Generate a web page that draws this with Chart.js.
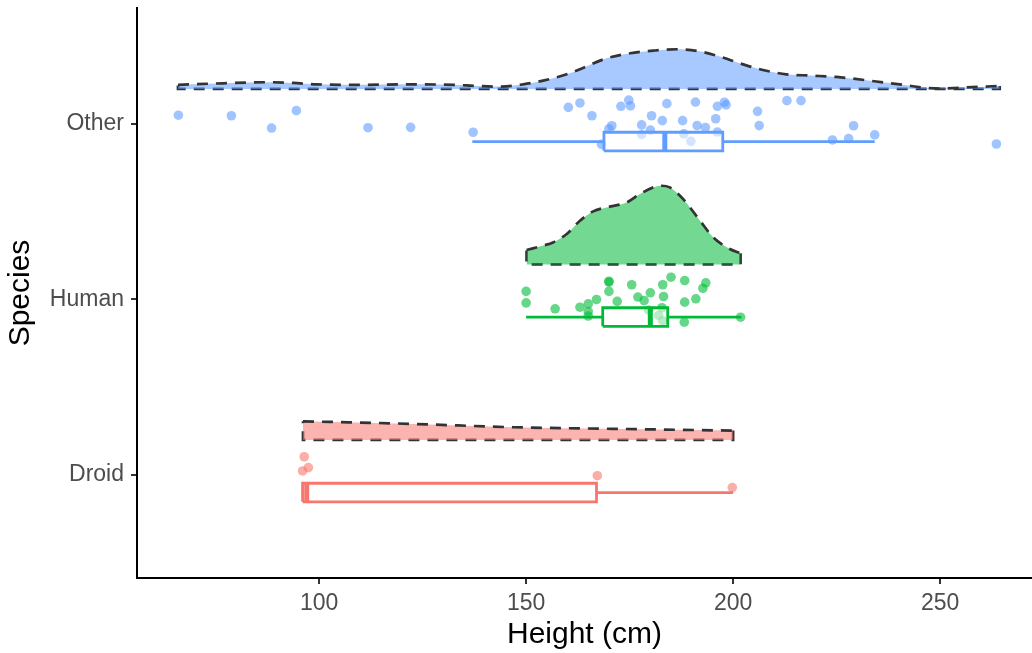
<!DOCTYPE html>
<html>
<head>
<meta charset="utf-8">
<script src="https://cdn.jsdelivr.net/npm/chart.js@4.4.1/dist/chart.umd.min.js"></script>
<style>
  html, body { margin: 0; padding: 0; background: #fff; }
</style>
</head>
<body>
<canvas id="chart" width="1032" height="653"></canvas>
<script>
const species = ['Droid', 'Human', 'Other'];
const xTicks = [100, 150, 200, 250];

// raw heights (cm) and the vertical jitter of each dot
const droidHeights = [96.4, 96.0, 97.4, 167.2, 199.8];
const droidJitter = [0.104, 0.023, 0.042, -0.004, -0.072];

const humanHeights = [150, 150, 157, 163, 165, 165, 165, 167, 170, 170, 170, 172, 175.5, 177, 178.5,
  180, 179.6, 182, 183, 182.8, 183, 183.2, 185, 188.3, 188.3, 188.2, 191, 192.7, 193.4, 201.8];
const humanJitter = [0.046, -0.019, -0.053, -0.044, -0.025, -0.068, -0.094, 0.000, 0.099, 0.104, 0.046, -0.011, 0.084, 0.014, -0.006,
  0.038, -0.061, -0.091, -0.121, -0.047, 0.084, 0.017, 0.127, 0.108, -0.015, -0.129, 0.004, 0.064, 0.095, -0.101];

const otherHeights = [66, 78.8, 88.5, 94.5, 111.8, 122.1, 137.2, 160.2, 163, 165.9, 170.7, 170, 168.2, 172.9,
  174.8, 175.2, 177.9, 180.3, 180, 177.9, 182.9, 184, 187.8, 188.1, 189.8, 190.9, 191.3, 193.3, 195.8,
  196.2, 196.2, 197.9, 198.3, 205.9, 206.3, 213, 216.4, 224, 227.9, 229.1, 234.2, 263.6];
const otherJitter = [0.050, 0.047, -0.023, 0.076, -0.021, -0.019, -0.047, 0.095, 0.120, 0.047, -0.010, -0.028, -0.116, 0.101,
  0.136, 0.103, -0.005, 0.047, -0.035, -0.060, 0.019, 0.116, 0.019, -0.056, -0.099, 0.125, -0.009, -0.020, 0.030,
  -0.046, 0.101, 0.124, 0.109, 0.072, -0.009, 0.133, 0.133, -0.091, -0.083, -0.010, -0.062, -0.114];

// half-violin outlines: x positions and scaled density heights
const droidDensX = [96.1, 122.7, 146.9, 171.0, 200.0];
const droidDensH = [0.106, 0.091, 0.072, 0.063, 0.053];

const humanDensX = [150.1, 154.1, 156.5, 159.8, 163.0, 166.2, 170.2, 174.3, 177.5, 180.7, 182.7, 184.7, 187.9, 192.0, 195.2, 199.2, 201.8];
const humanDensH = [0.082, 0.107, 0.125, 0.173, 0.249, 0.302, 0.329, 0.353, 0.401, 0.439, 0.448, 0.439, 0.373, 0.249, 0.154, 0.088, 0.063];

const otherDensX = [65.9, 76.8, 88.1, 93.7, 99.4, 110.6, 121.1, 132.4, 138.0, 143.6, 149.3, 154.1, 159.8, 163.0, 169.4,
  175.1, 180.7, 186.3, 191.2, 196.8, 201.6, 207.2, 212.9, 218.5, 225.0, 234.6, 241.1, 245.9, 249.9, 254.8, 264.4];
const otherDensH = [0.023, 0.032, 0.038, 0.034, 0.026, 0.023, 0.026, 0.023, 0.017, 0.013, 0.026, 0.047, 0.083, 0.112, 0.174,
  0.203, 0.218, 0.226, 0.217, 0.184, 0.146, 0.108, 0.083, 0.076, 0.068, 0.042, 0.023, 0.007, 0.002, 0.007, 0.017];

// boxplot stats: [lower whisker, q1, median, q3, upper whisker]
const droidBox = [96, 96, 97, 167, 200];
const humanBox = [150, 168.5, 180, 184.2, 202];
const otherBox = [137, 168.8, 183.5, 197.5, 234.2];

const colors = ['#F8766D', '#00BA38', '#619CFF'];
const font = 'Liberation Sans, Arial, Helvetica, sans-serif';

function rgba(hex, a) {
  const n = parseInt(hex.slice(1), 16);
  return `rgba(${n >> 16}, ${(n >> 8) & 255}, ${n & 255}, ${a})`;
}

function cloud(pos, xs, hs, color) {
  const base = pos + 0.2;
  const last = xs.length - 1;
  const dash = { borderColor: '#333', borderWidth: 2.7, borderDash: [11, 8], pointRadius: 0 };
  return [
    Object.assign({
      type: 'line',
      data: xs.map((x, i) => ({ x: x, y: base + hs[i] })),
      backgroundColor: rgba(color, 0.55),
      fill: { value: base },
      cubicInterpolationMode: 'monotone',
      order: 4
    }, dash),
    Object.assign({
      type: 'line',
      data: [
        { x: xs[last], y: base + hs[last] }, { x: xs[last], y: base },
        { x: xs[0], y: base }, { x: xs[0], y: base + hs[0] }
      ],
      fill: false,
      tension: 0,
      order: 4
    }, dash)
  ];
}

function rain(pos, heights, jitter, color) {
  return {
    type: 'scatter',
    data: heights.map((h, i) => ({ x: h, y: pos + jitter[i] })),
    backgroundColor: rgba(color, 0.6),
    borderWidth: 0,
    pointRadius: 4.8,
    order: 3
  };
}

function box(pos, s, color) {
  const c = pos - 0.1, h = 0.053;
  const line = { type: 'line', borderColor: color, borderWidth: 2.8, pointRadius: 0, fill: false, tension: 0, order: 1 };
  return [
    Object.assign({}, line, {
      data: [{ x: s[1], y: c - h }, { x: s[3], y: c - h }, { x: s[3], y: c + h }, { x: s[1], y: c + h }, { x: s[1], y: c - h }],
      fill: 'shape',
      backgroundColor: 'rgba(255,255,255,0.55)',
      order: 2
    }),
    Object.assign({}, line, { data: [{ x: s[0], y: c }, { x: s[1], y: c }] }),
    Object.assign({}, line, { data: [{ x: s[3], y: c }, { x: s[4], y: c }] }),
    Object.assign({}, line, { data: [{ x: s[2], y: c - h }, { x: s[2], y: c + h }], borderWidth: 5, borderCapStyle: 'butt', order: 0 })
  ];
}

const datasets = [].concat(
  cloud(1, droidDensX, droidDensH, colors[0]),
  cloud(2, humanDensX, humanDensH, colors[1]),
  cloud(3, otherDensX, otherDensH, colors[2]),
  rain(1, droidHeights, droidJitter, colors[0]),
  rain(2, humanHeights, humanJitter, colors[1]),
  rain(3, otherHeights, otherJitter, colors[2]),
  box(1, droidBox, colors[0]),
  box(2, humanBox, colors[1]),
  box(3, otherBox, colors[2])
);

function noPad(s) {
  s.paddingTop = 0; s.paddingBottom = 0; s.paddingLeft = 0; s.paddingRight = 0;
}

new Chart(document.getElementById('chart'), {
  type: 'scatter',
  data: { datasets: datasets },
  options: {
    responsive: false,
    animation: false,
    layout: { autoPadding: false, padding: { top: 8, right: 0, left: 0, bottom: 0 } },
    plugins: { legend: { display: false }, tooltip: { enabled: false } },
    scales: {
      x: {
        type: 'linear',
        min: 56,
        max: 272.2,
        afterBuildTicks: s => { s.ticks = xTicks.map(v => ({ value: v })); },
        afterFit: s => { s.height = 75; noPad(s); },
        ticks: { color: '#4D4D4D', font: { size: 23, family: font }, padding: 6 },
        grid: { display: true, drawOnChartArea: false, drawTicks: true, tickLength: 6, color: '#333', lineWidth: 2 },
        border: { display: true, color: '#000', width: 2 },
        title: { display: true, text: 'Height (cm)', color: '#000', font: { size: 30, family: font }, padding: { top: 0, bottom: 0 } }
      },
      y: {
        type: 'linear',
        min: 0.413,
        max: 3.661,
        afterBuildTicks: s => { s.ticks = [1, 2, 3].map(v => ({ value: v })); },
        afterFit: s => { s.width = 137; noPad(s); },
        ticks: { color: '#4D4D4D', font: { size: 23, family: font }, padding: 7, callback: v => species[v - 1] },
        grid: { display: true, drawOnChartArea: false, drawTicks: true, tickLength: 6, color: '#333', lineWidth: 2 },
        border: { display: true, color: '#000', width: 2 },
        title: { display: true, text: 'Species', color: '#000', font: { size: 30, family: font }, padding: { top: 3, bottom: 0 } }
      }
    }
  }
});
</script>
</body>
</html>
